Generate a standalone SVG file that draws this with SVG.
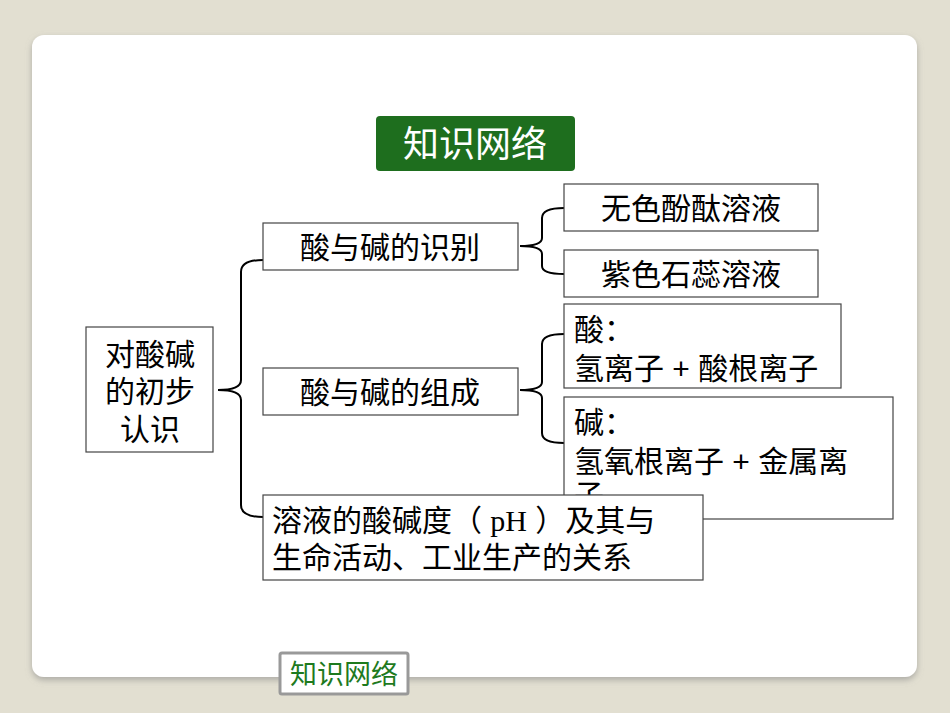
<svg xmlns="http://www.w3.org/2000/svg" width="950" height="713" viewBox="0 0 950 713">
<defs>
<filter id="sh" x="-5%" y="-5%" width="110%" height="110%"><feDropShadow dx="0" dy="3" stdDeviation="3" flood-color="#888" flood-opacity="0.6"/></filter>
<style>
.t{font-family:"Liberation Sans","Noto Sans CJK SC",sans-serif;font-size:30px;fill:#000}
.b{fill:#fff;stroke:#444;stroke-width:1.2}
.c{fill:none;stroke:#000;stroke-width:2}
</style>
</defs>
<rect width="950" height="713" fill="#e2dfd1"/>
<rect x="32" y="35" width="885" height="642" rx="12" fill="#fff" filter="url(#sh)"/>
<g id="title"><rect x="376" y="116" width="199" height="55" rx="4" fill="#1e6e1e"/><text x="475" y="157" text-anchor="middle" class="t" style="font-size:36px;fill:#fff">知识网络</text></g>
<g id="connectors">
<path class="c" d="M263,260 Q241,260 241,272 V380 Q241,390 218,390 Q241,390 241,400 V505 Q241,517 263,517"/>
<path class="c" d="M564,208 Q542,208 542,218 V238 Q542,246 520,246 Q542,246 542,254 V266 Q542,274 564,274"/>
<path class="c" d="M564,334 Q542,334 542,344 V382 Q542,390 520,390 Q542,390 542,398 V433 Q542,443 564,443"/>
</g>
<g id="root"><rect class="b" x="86" y="327" width="127" height="125"/><text class="t" text-anchor="middle"><tspan x="150" y="365">对酸碱</tspan><tspan x="150" y="402">的初步</tspan><tspan x="150" y="440">认识</tspan></text></g>
<g id="b1"><rect class="b" x="263" y="223" width="255" height="47"/><text class="t" x="390" y="258" text-anchor="middle">酸与碱的识别</text></g>
<g id="b2"><rect class="b" x="263" y="368" width="255" height="47"/><text class="t" x="390" y="403" text-anchor="middle">酸与碱的组成</text></g>
<g id="c1"><rect class="b" x="564" y="184" width="254" height="47"/><text class="t" x="691" y="219" text-anchor="middle">无色酚酞溶液</text></g>
<g id="c2"><rect class="b" x="564" y="250" width="254" height="47"/><text class="t" x="691" y="285" text-anchor="middle">紫色石蕊溶液</text></g>
<g id="c3"><rect class="b" x="564" y="304" width="277" height="84"/><text class="t"><tspan x="574" y="340">酸：</tspan><tspan x="574" y="379">氢离子 + 酸根离子</tspan></text></g>
<g id="c4"><rect class="b" x="564" y="397" width="329" height="122"/><text class="t"><tspan x="574" y="433">碱：</tspan><tspan x="574" y="472">氢氧根离子 + 金属离</tspan><tspan x="574" y="506">子</tspan></text></g>
<g id="b3"><rect class="b" x="263" y="495" width="440" height="85"/><text class="t"><tspan x="272" y="531">溶液的酸碱度（ <tspan style="font-family:'Liberation Serif',serif">pH</tspan> ）及其与</tspan><tspan x="272" y="568">生命活动、工业生产的关系</tspan></text></g>
<g id="label"><rect x="280" y="653" width="128" height="41" fill="#fff" stroke="#999" stroke-width="3" rx="2"/><text x="344" y="684" text-anchor="middle" class="t" style="font-size:27px;fill:#1e7a1e">知识网络</text></g>
</svg>
